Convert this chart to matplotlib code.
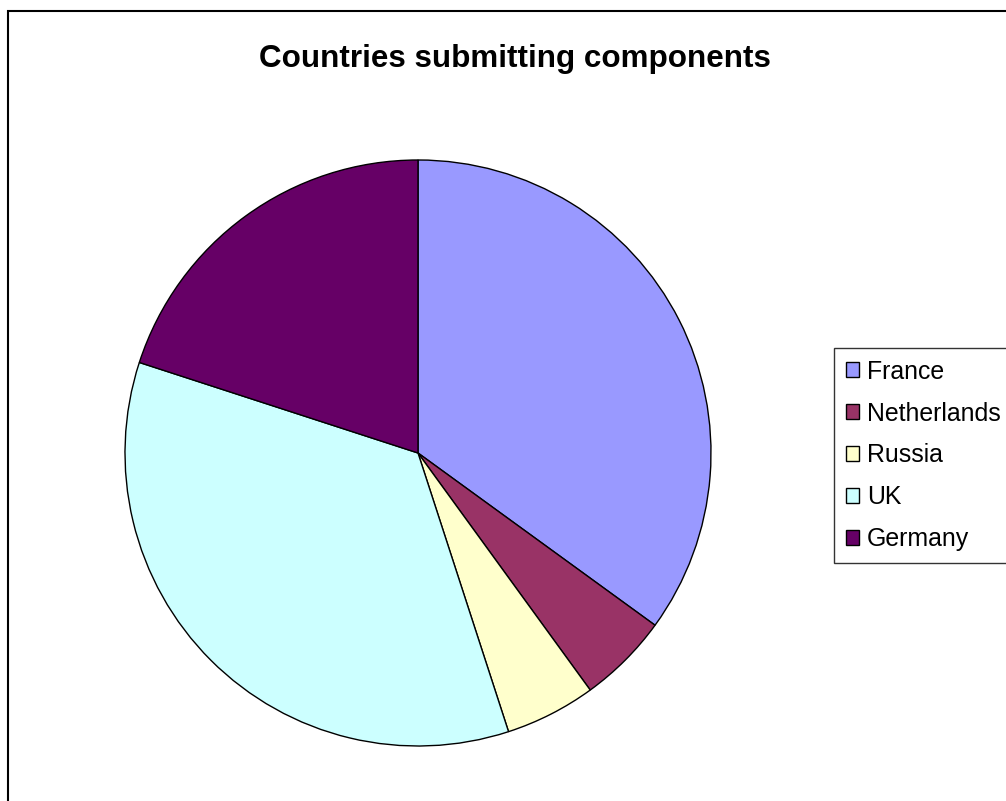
import matplotlib
matplotlib.use("Agg")
import matplotlib.pyplot as plt
from matplotlib.patches import Rectangle, Patch

countries = ["France", "Netherlands", "Russia", "UK", "Germany"]
counts = [7, 1, 1, 7, 4]
colors = ["#9999FF", "#993366", "#FFFFCC", "#CCFFFF", "#660066"]
title = "Countries submitting components"

plt.rcParams['font.family'] = ['Liberation Sans', 'DejaVu Sans']

W, H = 1006, 801
fig = plt.figure(figsize=(W / 100, H / 100), dpi=100)
fig.patch.set_facecolor("white")

# outer chart frame
fig.add_artist(Rectangle((8 / W, -0.1), 1.2, 1 - 11 / H + 0.1, transform=fig.transFigure,
                         fill=False, edgecolor="black", linewidth=1.5))

cx, cy, r = 418, 453, 293
ax = fig.add_axes([(cx - r) / W, (H - cy - r) / H, 2 * r / W, 2 * r / H])
ax.pie(counts, colors=colors, startangle=90, counterclock=False, radius=1,
       wedgeprops=dict(edgecolor="black", linewidth=1))
ax.set_xlim(-1, 1)
ax.set_ylim(-1, 1)
ax.set_aspect("auto")
ax.axis("off")

fig.text(515 / W, 1 - 59 / H, title, ha="center", va="center",
         fontsize=22.6, fontweight="bold")

handles = [Patch(facecolor=c, edgecolor="black", linewidth=1) for c in colors]
leg = fig.legend(handles, countries, loc="upper left",
                 bbox_to_anchor=(834 / W, 1 - 348 / H), bbox_transform=fig.transFigure,
                 borderaxespad=0, fontsize=17.9, frameon=True, fancybox=False,
                 edgecolor="black", handlelength=0.55, handleheight=0.55,
                 handletextpad=0.3, labelspacing=0.72, borderpad=0.47)
leg.get_frame().set_linewidth(1)

fig.savefig("out.png", dpi=100, facecolor="white")
